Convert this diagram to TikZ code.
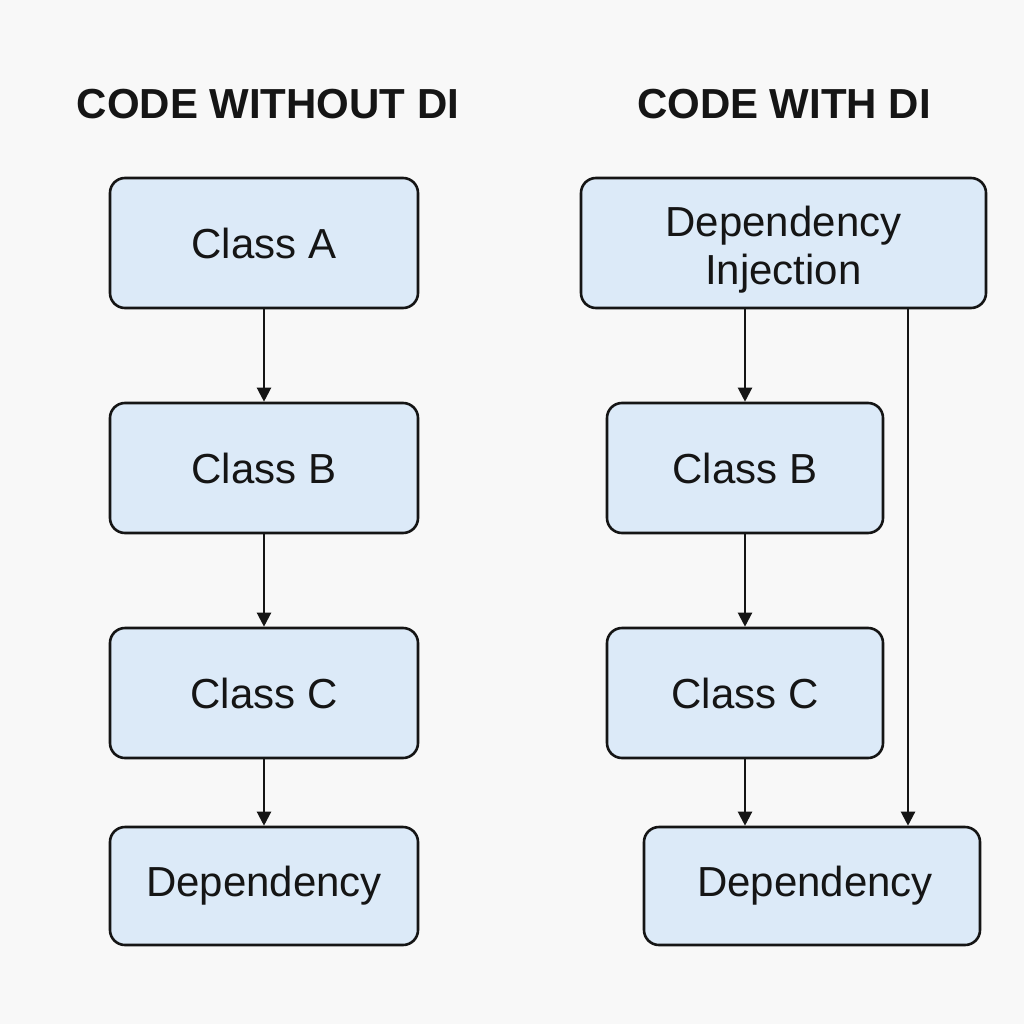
\documentclass[tikz,border=0pt]{standalone}
\usepackage{fontspec}
\setmainfont{Liberation Sans}
\usetikzlibrary{arrows.meta}
\definecolor{bgc}{HTML}{F8F8F8}
\definecolor{boxfill}{HTML}{DCEAF8}
\definecolor{ink}{HTML}{151515}
\begin{document}
\begin{tikzpicture}[x=1pt,y=-1pt,
  box/.style={draw=ink, line width=2.6pt, fill=boxfill, rounded corners=15pt,
    inner sep=0pt, align=center, font=\fontsize{42}{48}\selectfont, text=ink},
  title/.style={font=\bfseries\fontsize{42}{48}\selectfont, text=ink, inner sep=0pt},
  arr/.style={draw=ink, line width=2.2pt, -{Triangle[length=14pt,width=14pt]}}]
\fill[bgc] (0,0) rectangle (1024,1024);
\useasboundingbox (0,0) rectangle (1024,1024);
\node[title] (t1) at (268,104) {CODE WITHOUT DI};
\node[title] (t2) at (784,104) {CODE WITH DI};
% left column
\node[box, minimum width=308pt, minimum height=130pt] (a) at (264,243) {Class A};
\node[box, minimum width=308pt, minimum height=130pt] (b) at (264,468) {Class B};
\node[box, minimum width=308pt, minimum height=130pt] (c) at (264,693) {Class C};
\node[box, minimum width=308pt, minimum height=118pt] (d) at (264,886) {Dependency};
\draw[arr] (a.south) -- (b.north);
\draw[arr] (b.south) -- (c.north);
\draw[arr] (c.south) -- (d.north);
% right column
\node[box, minimum width=405pt, minimum height=130pt] (di) at (783.5,243) {\raisebox{-7pt}[\height][\depth]{\shortstack{Dependency\\[6pt]Injection}}};
\node[box, minimum width=276pt, minimum height=130pt] (rb) at (745,468) {Class B};
\node[box, minimum width=276pt, minimum height=130pt] (rc) at (745,693) {Class C};
\node[box, minimum width=336pt, minimum height=118pt] (rd) at (812,886) {\hspace{6pt}Dependency};
\coordinate (rx) at (908,0);
\draw[arr] (rb.north |- di.south) -- (rb.north);
\draw[arr] (rb.south) -- (rc.north);
\draw[arr] (rc.south) -- (rc.south |- rd.north);
\draw[arr] (rx |- di.south) -- (rx |- rd.north);
\end{tikzpicture}
\end{document}
